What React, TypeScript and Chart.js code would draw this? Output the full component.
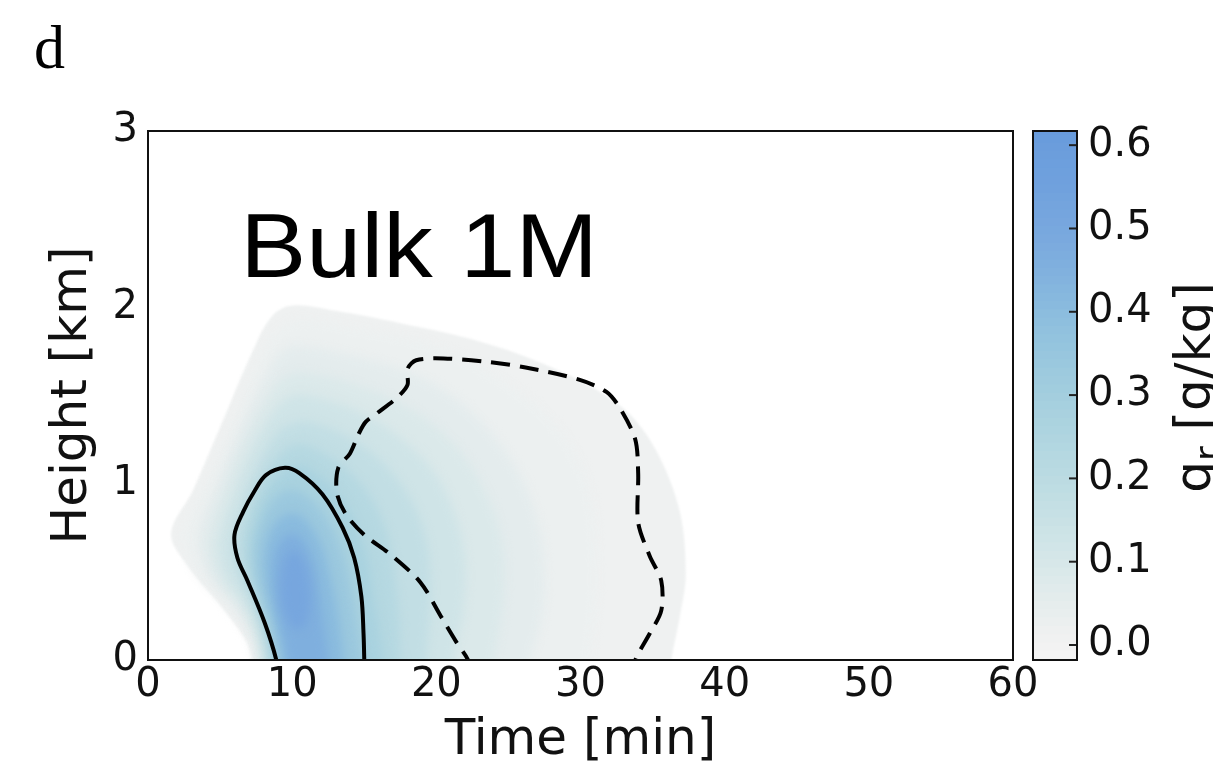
import React, { useEffect, useRef } from "react";
import { Chart, registerables } from "chart.js";

const W = 1213;
const H = 774;

// ---- axis ticks ----
const xTicks = [0, 10, 20, 30, 40, 50, 60];
const yTicks = [0, 1, 2, 3];
const colorbarTicks = [0, 0.1, 0.2, 0.3, 0.4, 0.5, 0.6];
const colorbarRange = [-0.018, 0.617];

// ---- filled-contour levels of q_r [g/kg] and their outlines [time min, height km] ----
const fieldLevels = [0.005, 0.02, 0.05, 0.08, 0.12, 0.17, 0.22, 0.27, 0.33, 0.4, 0.45, 0.5];

const level005 = [[7.2,-0.08],[7.2,0],[6.8,0.11],[5.1,0.30],[2.6,0.55],[1.6,0.72],[3.1,0.96],[5.1,1.34],[7.3,1.76],[8.6,1.95],[10.0,2.01],[13.0,1.98],[17.5,1.91],[22.4,1.82],[27.4,1.68],[32.3,1.47],[34.8,1.25],[36.8,0.87],[37.3,0.49],[36.9,0.25],[36.3,0],[36.3,-0.08]];
const level020 = [[7.4,-0.08],[7.4,0],[7.0,0.12],[5.5,0.30],[3.3,0.50],[2.5,0.72],[3.9,0.98],[5.8,1.33],[7.8,1.72],[9.0,1.87],[10.5,1.93],[15.0,1.87],[20.0,1.78],[24.9,1.57],[28.6,1.30],[30.6,0.96],[31.1,0.49],[30.9,0.2],[30.6,0],[30.6,-0.08]];
const level050 = [[7.6,-0.08],[7.6,0],[7.2,0.13],[6.0,0.30],[4.2,0.48],[3.5,0.70],[4.6,0.96],[6.3,1.30],[8.2,1.62],[9.3,1.75],[10.5,1.78],[14.5,1.72],[19.0,1.60],[22.5,1.40],[25.3,1.12],[27.0,0.80],[27.5,0.45],[27.2,0.20],[26.5,0],[26.5,-0.08]];
const level080 = [[7.8,-0.08],[7.8,0],[7.4,0.14],[6.4,0.30],[4.7,0.48],[4.2,0.68],[5.2,0.95],[6.8,1.27],[8.5,1.52],[9.6,1.61],[10.8,1.63],[14.5,1.56],[18.3,1.42],[21.5,1.20],[23.6,0.92],[24.6,0.65],[24.7,0.40],[24.4,0.18],[24.0,0],[24.0,-0.08]];
const level120 = [[8.0,-0.08],[8.0,0],[7.6,0.15],[6.8,0.30],[5.3,0.48],[4.9,0.66],[5.8,0.92],[7.2,1.20],[8.8,1.42],[9.8,1.49],[11.0,1.50],[14.3,1.42],[17.5,1.26],[20.0,1.05],[21.4,0.80],[22.0,0.55],[21.9,0.30],[21.5,0.12],[21.2,0],[21.2,-0.08]];
const level170 = [[8.2,-0.08],[8.2,0],[7.8,0.16],[7.1,0.32],[6.2,0.48],[5.8,0.65],[6.5,0.88],[7.7,1.12],[9.0,1.29],[10.0,1.34],[11.2,1.35],[14.0,1.26],[16.5,1.10],[18.3,0.90],[19.3,0.68],[19.6,0.45],[19.5,0.22],[19.3,0],[19.3,-0.08]];
const level220 = [[8.5,-0.08],[8.5,0],[8.1,0.17],[7.5,0.32],[6.8,0.48],[6.5,0.65],[7.0,0.85],[8.0,1.04],[9.2,1.17],[10.2,1.22],[11.3,1.21],[13.5,1.10],[15.3,0.94],[16.6,0.72],[17.1,0.48],[17.4,0.24],[17.5,0],[17.5,-0.08]];
const level270 = [[8.7,-0.08],[8.7,0],[8.3,0.18],[7.8,0.33],[7.3,0.48],[7.1,0.64],[7.5,0.82],[8.3,0.97],[9.4,1.07],[10.2,1.10],[11.2,1.08],[12.9,0.97],[14.3,0.79],[15.2,0.58],[15.6,0.38],[16.0,0.18],[16.3,0],[16.3,-0.08]];
const level330 = [[8.9,-0.08],[8.9,0],[8.5,0.18],[7.9,0.34],[7.5,0.48],[7.4,0.63],[7.9,0.79],[8.7,0.91],[9.7,0.96],[10.6,0.95],[11.9,0.86],[13.0,0.71],[13.8,0.52],[14.2,0.34],[14.6,0.16],[14.9,0],[14.9,-0.08]];
const level400 = [[9.3,-0.08],[9.3,0],[8.9,0.18],[8.4,0.34],[8.1,0.48],[8.1,0.62],[8.6,0.75],[9.4,0.82],[10.3,0.83],[11.2,0.77],[12.1,0.64],[12.7,0.46],[13.1,0.30],[13.4,0.14],[13.6,0],[13.6,-0.08]];
const level450 = [[9.7,-0.08],[9.7,0],[9.3,0.16],[8.9,0.32],[8.7,0.48],[8.9,0.62],[9.5,0.70],[10.3,0.71],[11.0,0.64],[11.6,0.50],[11.9,0.34],[12.2,0.18],[12.5,0],[12.5,-0.08]];
const level500 = [[10.0,0.18],[9.4,0.28],[9.2,0.42],[9.5,0.56],[10.1,0.62],[10.8,0.56],[11.2,0.42],[11.2,0.28],[10.7,0.18],[10.0,0.18]];

const fieldContours = [level005, level020, level050, level080, level120, level170, level220, level270, level330, level400, level450, level500];

// ---- line contours [time min, height km] ----
const solidContour = [[8.9,-0.05],[8.9,0],[8.1,0.21],[6.9,0.45],[6.2,0.58],[6.0,0.71],[6.6,0.84],[7.4,0.96],[8.2,1.05],[9.5,1.09],[10.5,1.06],[12.1,0.94],[13.5,0.75],[14.3,0.58],[14.8,0.36],[14.95,0.15],[15.0,0],[15.0,-0.05]];
const dashedContour = [[22.2,-0.05],[22.2,0],[21.4,0.10],[20.3,0.25],[18.9,0.44],[16.8,0.60],[15.0,0.71],[13.7,0.83],[13.1,0.95],[13.2,1.09],[14.0,1.17],[14.6,1.28],[15.1,1.35],[15.9,1.40],[17.3,1.49],[18.0,1.56],[18.0,1.65],[18.6,1.70],[20.5,1.71],[23.6,1.69],[26.1,1.66],[29.9,1.59],[31.8,1.52],[32.8,1.42],[33.8,1.25],[34.0,1.06],[34.0,0.78],[34.8,0.59],[35.6,0.45],[35.6,0.28],[34.8,0.15],[33.8,0],[33.8,-0.05]];

// ---- colormap (style) ----
const cmapStops: [number, string][] = [
  [-0.02, "#f4f4f4"], [0.0, "#f2f2f2"], [0.05, "#e5eded"], [0.1, "#d6e7e9"],
  [0.15, "#c8e1e5"], [0.2, "#bbdbe2"], [0.25, "#afd5e0"], [0.3, "#a3cede"],
  [0.35, "#97c6de"], [0.4, "#8bbcde"], [0.45, "#80b0de"], [0.5, "#78a7de"],
  [0.55, "#70a1dd"], [0.62, "#689bdc"],
];

function hexRgb(h: string) {
  return [parseInt(h.slice(1, 3), 16), parseInt(h.slice(3, 5), 16), parseInt(h.slice(5, 7), 16)];
}
function cmap(v: number) {
  let i = 0;
  while (i < cmapStops.length - 2 && v > cmapStops[i + 1][0]) i++;
  const [v0, c0] = cmapStops[i];
  const [v1, c1] = cmapStops[i + 1];
  const t = Math.max(0, Math.min(1, (v - v0) / (v1 - v0)));
  const a = hexRgb(c0), b = hexRgb(c1);
  const c = a.map((x, k) => Math.round(x + (b[k] - x) * t));
  return `rgb(${c[0]},${c[1]},${c[2]})`;
}

const toPts = (arr: number[][]) => arr.map(([x, y]) => ({ x, y }));
const FONT = "'DejaVu Sans', sans-serif";

// registered before the Filler plugin so that the blur filter is active when fills are painted
const blurPlugin = {
  id: "blurFill",
  beforeDatasetDraw(chart: any, args: any) {
    const ds: any = chart.data.datasets[args.index];
    if (ds && ds.blur) {
      chart.ctx.save();
      chart.ctx.filter = `blur(${ds.blur}px)`;
    }
  },
  afterDatasetDraw(chart: any, args: any) {
    const ds: any = chart.data.datasets[args.index];
    if (ds && ds.blur) chart.ctx.restore();
  },
};
Chart.register(blurPlugin as any);
Chart.register(...registerables);

const mainDecor = {
  id: "mainDecor",
  afterDraw(chart: any) {
    const { ctx, chartArea: a, scales } = chart;
    ctx.save();
    ctx.strokeStyle = "#111";
    ctx.lineWidth = 2;
    ctx.strokeRect(a.left, a.top, a.right - a.left, a.bottom - a.top);
    ctx.fillStyle = "#000";
    ctx.font = "62px 'Liberation Serif', serif";
    ctx.textBaseline = "alphabetic";
    ctx.fillText("d", 34, 68);
    ctx.font = "90px 'Liberation Sans', Arial, sans-serif";
    const px = scales.x.getPixelForValue(6.4);
    const py = scales.y.getPixelForValue(2.17);
    ctx.translate(px, py);
    ctx.scale(1.1, 1);
    ctx.fillText("Bulk 1M", 0, 0);
    ctx.restore();
  },
};

const cbDecor = {
  id: "cbDecor",
  afterDraw(chart: any) {
    const { ctx, chartArea: a, scales } = chart;
    ctx.save();
    ctx.strokeStyle = "#222";
    ctx.lineWidth = 2;
    for (const v of colorbarTicks) {
      const y = scales.y.getPixelForValue(v);
      ctx.beginPath();
      ctx.moveTo(a.right - 8, y);
      ctx.lineTo(a.right, y);
      ctx.stroke();
    }
    ctx.strokeStyle = "#111";
    ctx.strokeRect(a.left, a.top, a.right - a.left, a.bottom - a.top);
    ctx.fillStyle = "#111";
    const big = `50px ${FONT}`;
    const small = `36px ${FONT}`;
    ctx.font = big;
    const wq = ctx.measureText("q").width;
    const wRest = ctx.measureText(" [g/kg]").width;
    ctx.font = small;
    const wr = ctx.measureText("r").width;
    const total = wq + wr + wRest;
    const cy = (a.top + a.bottom) / 2 - 8;
    ctx.translate(197, cy + total / 2);
    ctx.rotate(-Math.PI / 2);
    ctx.textBaseline = "alphabetic";
    ctx.font = big;
    ctx.fillText("q", 0, 0);
    ctx.font = small;
    ctx.fillText("r", wq, 10);
    ctx.font = big;
    ctx.fillText(" [g/kg]", wq + wr, 0);
    ctx.restore();
  },
};

export default function App() {
  const mainRef = useRef<HTMLCanvasElement>(null);
  const cbRef = useRef<HTMLCanvasElement>(null);

  useEffect(() => {
    const fills = fieldContours.map((poly, i) => ({
      data: toPts(poly),
      borderWidth: 0,
      borderColor: "rgba(0,0,0,0)",
      backgroundColor: cmap(fieldLevels[i] + 0.005),
      fill: "shape",
      pointRadius: 0,
      tension: 0.35,
      order: 100 - i,
      blur: i === 0 ? 1 : 5,
    }));
    const lines = [
      { data: toPts(solidContour), borderColor: "#000", borderWidth: 4, fill: false, pointRadius: 0, tension: 0.35, order: 1 },
      { data: toPts(dashedContour), borderColor: "#000", borderWidth: 4, borderDash: [19, 10], fill: false, pointRadius: 0, tension: 0.3, order: 0 },
    ];

    const main = new Chart(mainRef.current!, {
      type: "line",
      data: { datasets: [...lines, ...fills] as any },
      options: {
        responsive: false,
        devicePixelRatio: 1,
        animation: false,
        layout: { padding: { left: 0, top: 131, right: 200, bottom: 0 } },
        plugins: { legend: { display: false }, tooltip: { enabled: false } },
        scales: {
          x: {
            type: "linear",
            min: 0,
            max: 60,
            afterBuildTicks: (s: any) => { s.ticks = xTicks.map((v) => ({ value: v })); },
            afterFit: (s: any) => { s.height = 114; },
            grid: { display: false, drawTicks: false },
            border: { display: false },
            ticks: { font: { family: FONT, size: 40 }, color: "#111", padding: 2, maxRotation: 0, autoSkip: false },
            title: { display: true, text: "Time [min]", font: { family: FONT, size: 50 }, color: "#111", padding: { top: 0, bottom: 3 } },
          },
          y: {
            type: "linear",
            min: 0,
            max: 3,
            afterBuildTicks: (s: any) => { s.ticks = yTicks.map((v) => ({ value: v })); },
            afterFit: (s: any) => { s.width = 148; },
            grid: { display: false, drawTicks: false },
            border: { display: false },
            ticks: { font: { family: FONT, size: 40 }, color: "#111", padding: 10, autoSkip: false },
            title: { display: true, text: "Height [km]", font: { family: FONT, size: 50 }, color: "#111", padding: { top: 43, bottom: 0 } },
          },
        },
      } as any,
      plugins: [mainDecor],
    });

    const segs: any[] = [];
    const step = 0.01;
    for (let lo = colorbarRange[0]; lo < colorbarRange[1] - 1e-9; lo += step) {
      const hi = Math.min(lo + step, colorbarRange[1]);
      segs.push({
        data: [[lo, hi + 0.0005]],
        backgroundColor: cmap((lo + hi) / 2),
        borderWidth: 0,
        grouped: false,
        barPercentage: 1,
        categoryPercentage: 1,
      });
    }

    const cb = new Chart(cbRef.current!, {
      type: "bar",
      data: { labels: ["qr"], datasets: segs },
      options: {
        responsive: false,
        devicePixelRatio: 1,
        animation: false,
        layout: { padding: { left: 20, top: 131, right: 0, bottom: 114 } },
        plugins: { legend: { display: false }, tooltip: { enabled: false } },
        scales: {
          x: { display: false },
          y: {
            position: "right",
            min: colorbarRange[0],
            max: colorbarRange[1],
            afterBuildTicks: (s: any) => { s.ticks = colorbarTicks.map((v) => ({ value: v })); },
            afterFit: (s: any) => { s.width = 136; },
            grid: { display: false, drawTicks: false },
            border: { display: false },
            ticks: { font: { family: FONT, size: 40 }, color: "#111", padding: 11, callback: (v: any) => Number(v).toFixed(1) },
          },
        },
      } as any,
      plugins: [cbDecor],
    });

    return () => {
      main.destroy();
      cb.destroy();
    };
  }, []);

  return (
    <div style={{ position: "fixed", left: 0, top: 0, width: W, height: H, background: "#fff", overflow: "hidden" }}>
      <canvas ref={mainRef} width={W} height={H} style={{ position: "absolute", left: 0, top: 0, width: W, height: H }} />
      <canvas ref={cbRef} width={200} height={H} style={{ position: "absolute", left: 1013, top: 0, width: 200, height: H }} />
    </div>
  );
}
